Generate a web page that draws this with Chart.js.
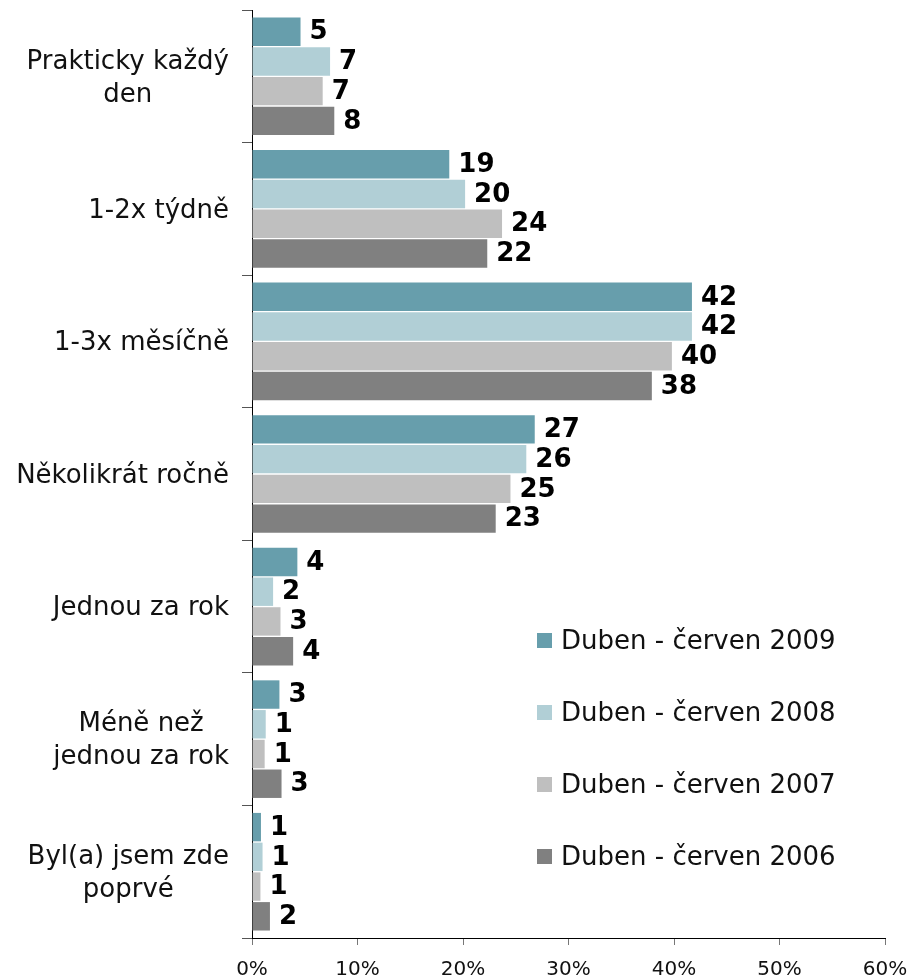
<!DOCTYPE html>
<html>
<head>
<meta charset="utf-8">
<script src="https://cdn.jsdelivr.net/npm/chart.js@4"></script>
<style>
  html, body { margin: 0; padding: 0; background: #fff; }
  #wrap { width: 910px; height: 979px; position: relative; }
</style>
</head>
<body>
<div id="wrap"><canvas id="freqChart"></canvas></div>
<script>
const categories = [
  ["Prakticky každý", "den"],
  ["1-2x týdně"],
  ["1-3x měsíčně"],
  ["Několikrát ročně"],
  ["Jednou za rok"],
  ["Méně než", "jednou za rok"],
  ["Byl(a) jsem zde", "poprvé"]
];
const seriesNames = ["Duben - červen 2009", "Duben - červen 2008", "Duben - červen 2007", "Duben - červen 2006"];
const values2009 = [4.6, 18.7, 41.7, 26.8, 4.3, 2.6, 0.85];
const values2008 = [7.4, 20.2, 41.7, 26.0, 2.0, 1.3, 1.0];
const values2007 = [6.7, 23.7, 39.8, 24.5, 2.7, 1.2, 0.8];
const values2006 = [7.8, 22.3, 37.9, 23.1, 3.9, 2.8, 1.7];
const labels2009 = [5, 19, 42, 27, 4, 3, 1];
const labels2008 = [7, 20, 42, 26, 2, 1, 1];
const labels2007 = [7, 24, 40, 25, 3, 1, 1];
const labels2006 = [8, 22, 38, 23, 4, 3, 2];
const xTicks = [0, 10, 20, 30, 40, 50, 60];

const colors = ["#679EAC", "#B1CFD6", "#BFBFBF", "#808080"];
const FONT = "'DejaVu Sans', Verdana, sans-serif";

const allValues = [values2009, values2008, values2007, values2006];
const allLabels = [labels2009, labels2008, labels2007, labels2006];

// value labels right of each bar
const valueLabels = {
  id: "valueLabels",
  afterDatasetsDraw(chart) {
    const ctx = chart.ctx;
    ctx.save();
    ctx.font = "bold 26px " + FONT;
    ctx.fillStyle = "#000";
    ctx.textAlign = "left";
    ctx.textBaseline = "middle";
    chart.data.datasets.forEach((ds, di) => {
      chart.getDatasetMeta(di).data.forEach((bar, i) => {
        ctx.fillText(String(allLabels[di][i]), bar.x + 9, bar.y + 1);
      });
    });
    ctx.restore();
  }
};

// category labels: lines centred to each other, block right-aligned
const catLabels = {
  id: "catLabels",
  afterDraw(chart) {
    const ctx = chart.ctx;
    const y = chart.scales.y;
    ctx.save();
    ctx.font = "26px " + FONT;
    ctx.fillStyle = "#111";
    ctx.textAlign = "center";
    ctx.textBaseline = "middle";
    const lh = 33;
    categories.forEach((lines, i) => {
      const cy = y.getPixelForTick(i) + 2;
      const w = Math.max(...lines.map(l => ctx.measureText(l).width));
      const cx = y.right - 23 - w / 2;
      lines.forEach((l, k) => {
        ctx.fillText(l, cx, cy + (k - (lines.length - 1) / 2) * lh);
      });
    });
    ctx.restore();
  }
};

// legend inside the plot, right side
const sideLegend = {
  id: "sideLegend",
  afterDraw(chart) {
    const ctx = chart.ctx;
    ctx.save();
    ctx.font = "26px " + FONT;
    ctx.textBaseline = "middle";
    ctx.textAlign = "left";
    chart.data.datasets.forEach((ds, i) => {
      const cy = 641 + i * 72;
      ctx.fillStyle = ds.backgroundColor;
      ctx.fillRect(537, cy - 8, 15, 15);
      ctx.fillStyle = "#111";
      ctx.fillText(ds.label, 561, cy + 1);
    });
    ctx.restore();
  }
};

new Chart(document.getElementById("freqChart"), {
  type: "bar",
  data: {
    labels: categories,
    datasets: seriesNames.map((name, i) => ({
      label: name,
      data: allValues[i],
      backgroundColor: colors[i],
      borderWidth: 0,
      categoryPercentage: 0.897,
      barPercentage: 0.956
    }))
  },
  options: {
    indexAxis: "y",
    responsive: true,
    maintainAspectRatio: false,
    animation: false,
    layout: { padding: { top: 10, right: 25, left: 0, bottom: 0 } },
    plugins: {
      legend: { display: false },
      tooltip: { enabled: false }
    },
    scales: {
      x: {
        min: 0,
        max: 60,
        afterBuildTicks(axis) { axis.ticks = xTicks.map(v => ({ value: v })); },
        afterFit(axis) { axis.height = 41; axis.paddingLeft = 0; axis.paddingRight = 0; },
        ticks: {
          callback: v => v + "%",
          font: { family: FONT, size: 20 },
          color: "#111",
          padding: 13,
          maxRotation: 0
        },
        grid: { drawOnChartArea: false, tickLength: 7, color: "#777" },
        border: { color: "#000", width: 1 }
      },
      y: {
        afterFit(axis) { axis.width = 252; axis.paddingTop = 0; axis.paddingBottom = 0; },
        ticks: { display: false },
        grid: { drawOnChartArea: false, offset: true, tickLength: 10, color: "#555" },
        border: { color: "#000", width: 1 }
      }
    }
  },
  plugins: [valueLabels, catLabels, sideLegend]
});
</script>
</body>
</html>
